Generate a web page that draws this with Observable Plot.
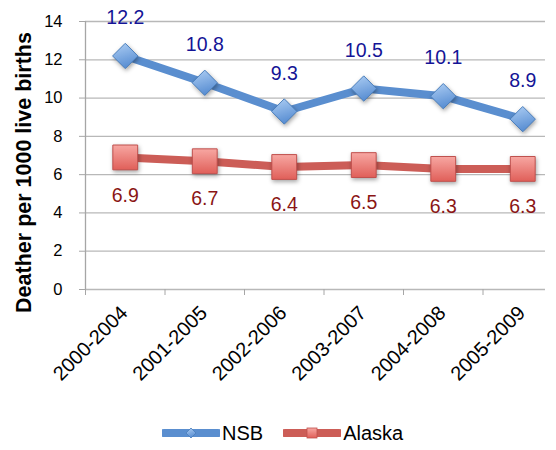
<!DOCTYPE html>
<html><head><meta charset="utf-8">
<script src="https://cdn.jsdelivr.net/npm/d3@7"></script>
<script src="https://cdn.jsdelivr.net/npm/@observablehq/plot@0.6"></script>
<style>
body{margin:0;background:#fff;font-family:"Liberation Sans",Arial,sans-serif}
#legend{display:flex;align-items:center;height:46px;padding-left:162px;font-size:20px;color:#000}
#legend .item{display:flex;align-items:center;margin-right:20px}
#legend .item span{margin-left:2px}
</style>
</head><body>
<svg width="0" height="0" style="position:absolute"><defs>
<linearGradient id="gBlue" x1="0" y1="0" x2="0.3" y2="1"><stop offset="0" stop-color="#AFCFF4"/><stop offset="1" stop-color="#5A8FD3"/></linearGradient>
<linearGradient id="gRed" x1="0" y1="0" x2="0" y2="1"><stop offset="0" stop-color="#F7A7A2"/><stop offset="1" stop-color="#E05F59"/></linearGradient>
</defs></svg>
<div id="chart"></div>
<div id="legend"></div>
<script>
const periods = ["2000-2004","2001-2005","2002-2006","2003-2007","2004-2008","2005-2009"];
const nsb = [12.2, 10.8, 9.3, 10.5, 10.1, 8.9];
const alaska = [6.9, 6.7, 6.4, 6.5, 6.3, 6.3];
const yTicks = [0, 2, 4, 6, 8, 10, 12, 14];
const yTitle = "Deather per 1000 live births";
const seriesNames = ["NSB", "Alaska"];

const nsbRows = nsb.map((v, i) => ({i, period: periods[i], value: v}));
const akRows = alaska.map((v, i) => ({i, period: periods[i], value: v}));
const boundaries = periods.map((p, i) => i - 0.5);

const blue = "#5A8ECF", red = "#CC5D57";

const chart = Plot.plot({
  width: 556, height: 410,
  marginLeft: 85, marginRight: 11, marginTop: 21, marginBottom: 121,
  x: {domain: [-0.5, periods.length - 0.5], range: [85, 562]},
  y: {domain: [0, 14]},
  style: {fontFamily: '"Liberation Sans", Arial, sans-serif', fontSize: "16px", color: "#000", overflow: "visible", background: "#fff"},
  marks: [
    Plot.gridY(yTicks, {stroke: "#B8B8B8", strokeOpacity: 1, strokeWidth: 1.3}),
    Plot.ruleX([-0.5], {stroke: "#A6A6A6", strokeWidth: 1.3}),
    Plot.axisY(yTicks, {tickSize: 6, tickPadding: 17, stroke: "#A6A6A6", fill: "#000", fontSize: 16.5, label: null}),
    Plot.axisX(boundaries, {tickSize: 6, tickFormat: () => "", stroke: "#A6A6A6", label: null}),
    Plot.text(periods, {x: (d, i) => i, frameAnchor: "bottom", text: d => d, rotate: -45, textAnchor: "end", lineAnchor: "middle", dy: 20, dx: -1, fontSize: 20, fill: "#000"}),
    Plot.text([yTitle], {frameAnchor: "left", text: d => d, rotate: -90, textAnchor: "middle", lineAnchor: "middle", dx: -61, dy: 17, fontWeight: "bold", fontSize: 21.5, fill: "#000"}),
    Plot.line(nsbRows, {x: "i", y: "value", stroke: blue, strokeWidth: 8}),
    Plot.line(akRows, {x: "i", y: "value", stroke: red, strokeWidth: 8}),
    Plot.dot(nsbRows, {x: "i", y: "value", symbol: "diamond2", r: 11.4, fill: "url(#gBlue)", stroke: "#4A7EBB", strokeWidth: 1}),
    Plot.dot(akRows, {x: "i", y: "value", symbol: "square", r: 14, fill: "url(#gRed)", stroke: "#C0504D", strokeWidth: 1}),
    Plot.text(nsbRows, {x: "i", y: "value", text: d => d.value.toFixed(1), dy: -38, fill: "#141496", fontSize: 19.5}),
    Plot.text(akRows, {x: "i", y: "value", text: d => d.value.toFixed(1), dy: 38, fill: "#8A1515", fontSize: 19.5})
  ]
});
d3.select(chart).selectAll('g[aria-label="dot"]').style("filter", "drop-shadow(1px 2px 2px rgba(0,0,0,0.35))");
document.getElementById("chart").appendChild(chart);

const legend = d3.select("#legend");
seriesNames.forEach((name, k) => {
  const item = legend.append("div").attr("class", "item");
  const s = item.append("svg").attr("width", 58).attr("height", 16);
  s.append("line").attr("x1", 2).attr("x2", 56).attr("y1", 8).attr("y2", 8)
    .attr("stroke", k === 0 ? blue : red).attr("stroke-width", 8).attr("stroke-linecap", "round");
  if (k === 0) {
    s.append("path").attr("d", "M29,3 L34,8 L29,13 L24,8 Z").attr("fill", "url(#gBlue)").attr("stroke", "#4A7EBB").attr("stroke-width", 0.8);
  } else {
    s.append("rect").attr("x", 24).attr("y", 3).attr("width", 10).attr("height", 10).attr("fill", "url(#gRed)").attr("stroke", "#C0504D").attr("stroke-width", 0.8);
  }
  item.append("span").text(name);
});
</script>
</body></html>
